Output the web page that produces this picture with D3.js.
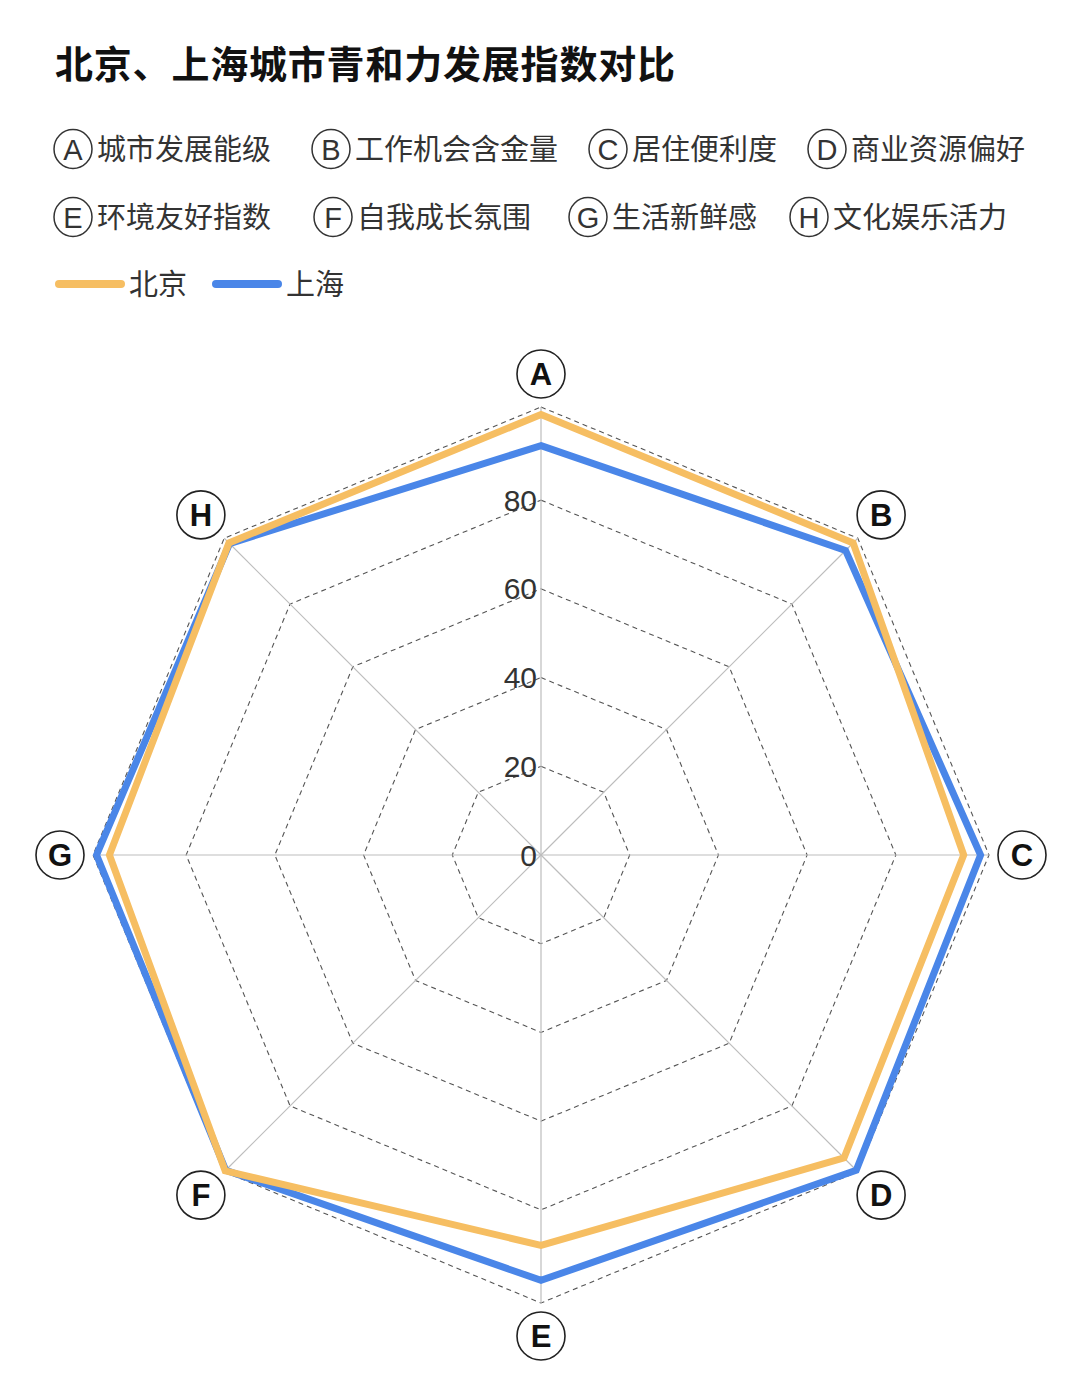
<!DOCTYPE html>
<html>
<head>
<meta charset="utf-8">
<script src="https://cdn.jsdelivr.net/npm/d3@7/dist/d3.min.js"></script>
<style>
  html, body { margin: 0; padding: 0; background: #fff; }
  svg { display: block; }
</style>
</head>
<body>
<svg id="chart" width="1080" height="1400"></svg>
<script>
// ---- data ----
const title = "北京、上海城市青和力发展指数对比";
const categories = ["A", "B", "C", "D", "E", "F", "G", "H"];
const categoryNames = ["城市发展能级", "工作机会含金量", "居住便利度", "商业资源偏好",
                       "环境友好指数", "自我成长氛围", "生活新鲜感", "文化娱乐活力"];
const seriesNames = ["北京", "上海"];
const beijing  = [99.3, 99.5, 95.3, 96.6, 88.0, 100.7, 97.3, 99.5];
const shanghai = [92.3, 97.1, 99.1, 100.5, 95.9, 100.5, 100.2, 99.3];
const ringTicks = [20, 40, 60, 80];
const tickLabels = ["0", "20", "40", "60", "80"];
const axisMax = 101;

// ---- layout ----
const svg = d3.select("#chart");
const cx = 541, cy = 855;
const R = 448;
const colors = { "北京": "#F6BE62", "上海": "#4A86E8" };
const font = "'Noto Sans CJK SC', 'Noto Sans', sans-serif";
const latin = "'Liberation Sans', Arial, sans-serif";

svg.append("rect").attr("width", 1080).attr("height", 1400).attr("fill", "#fff");

// title
svg.append("text")
  .attr("x", 55).attr("y", 78)
  .attr("font-family", font).attr("font-weight", 700)
  .attr("font-size", 38).attr("letter-spacing", 0.8).attr("fill", "#111")
  .text(title);

// category legend
const legendX = [[53, 311, 588, 807], [53, 313, 568, 789]];
const legendY = [149, 217];
categories.forEach((c, i) => {
  const row = Math.floor(i / 4), col = i % 4;
  const x = legendX[row][col], y = legendY[row];
  const g = svg.append("g").attr("transform", `translate(${x},${y})`);
  g.append("ellipse").attr("cx", 20).attr("cy", 0).attr("rx", 19).attr("ry", 19.5)
    .attr("fill", "none").attr("stroke", "#333").attr("stroke-width", 1.5);
  g.append("text").attr("x", 20).attr("y", 10.5)
    .attr("text-anchor", "middle").attr("font-family", latin)
    .attr("font-size", 29).attr("fill", "#333").text(c);
  g.append("text").attr("x", 44).attr("y", 11)
    .attr("font-family", font).attr("font-size", 29).attr("fill", "#333")
    .text(categoryNames[i]);
});

// series legend
const seriesLegendX = [55, 212];
seriesNames.forEach((s, i) => {
  const g = svg.append("g").attr("transform", `translate(${seriesLegendX[i]},284)`);
  g.append("line").attr("x1", 4).attr("x2", 66).attr("y1", 0).attr("y2", 0)
    .attr("stroke", colors[s]).attr("stroke-width", 8).attr("stroke-linecap", "round");
  g.append("text").attr("x", 74).attr("y", 11)
    .attr("font-family", font).attr("font-size", 29).attr("fill", "#333").text(s);
});

// ---- radar ----
const r = d3.scaleLinear().domain([0, axisMax]).range([0, R]);
const angle = d3.scalePoint().domain(categories).range([0, 2 * Math.PI * (categories.length - 1) / categories.length]);
const pt = (cat, v) => {
  const a = angle(cat) - Math.PI / 2;
  return [cx + r(v) * Math.cos(a), cy + r(v) * Math.sin(a)];
};

const plot = svg.append("g");

// rings
const ringLine = d3.line().curve(d3.curveLinearClosed);
[...ringTicks, axisMax].forEach(t => {
  plot.append("path")
    .attr("d", ringLine(categories.map(c => pt(c, t))))
    .attr("fill", "none").attr("stroke", "#555").attr("stroke-width", 1.1)
    .attr("stroke-dasharray", "5,4");
});

// spokes
categories.forEach(c => {
  const [x, y] = pt(c, axisMax);
  plot.append("line").attr("x1", cx).attr("y1", cy).attr("x2", x).attr("y2", y)
    .attr("stroke", "#bdbdbd").attr("stroke-width", 1.2);
});

// tick labels along A axis
tickLabels.forEach(t => {
  const [x, y] = pt("A", +t);
  plot.append("text").attr("x", x - 4).attr("y", y + 10.5)
    .attr("text-anchor", "end").attr("font-family", latin)
    .attr("font-size", 30).attr("fill", "#333").text(t);
});

// series
const seriesData = [["上海", shanghai], ["北京", beijing]];
seriesData.forEach(([name, vals]) => {
  plot.append("path")
    .attr("d", ringLine(categories.map((c, i) => pt(c, vals[i]))))
    .attr("fill", "none").attr("stroke", colors[name])
    .attr("stroke-width", 7).attr("stroke-linejoin", "miter");
});

// circled axis labels
const labelR = 481;
categories.forEach(c => {
  const a = angle(c) - Math.PI / 2;
  const x = cx + labelR * Math.cos(a), y = cy + labelR * Math.sin(a);
  plot.append("circle").attr("cx", x).attr("cy", y).attr("r", 24)
    .attr("fill", "#fff").attr("stroke", "#222").attr("stroke-width", 1.6);
  plot.append("text").attr("x", x).attr("y", y + 11)
    .attr("text-anchor", "middle").attr("font-family", latin)
    .attr("font-weight", 700).attr("font-size", 31).attr("fill", "#111").text(c);
});
</script>
</body>
</html>
